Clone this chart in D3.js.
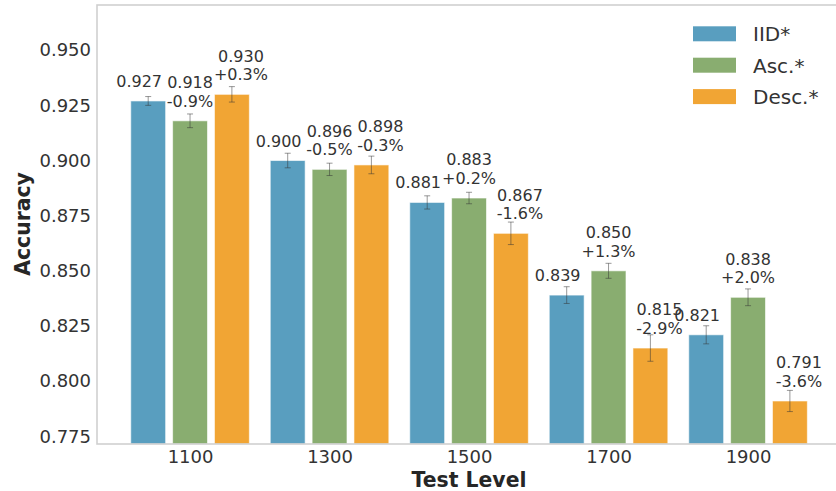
<!DOCTYPE html>
<html>
<head>
<meta charset="utf-8">
<script src="https://cdn.jsdelivr.net/npm/d3@7/dist/d3.min.js"></script>
<style>
  html, body { margin: 0; padding: 0; background: #ffffff; }
  svg { display: block; font-family: "DejaVu Sans", sans-serif; }
</style>
</head>
<body>
<svg id="chart" width="836" height="491"></svg>
<script>
// Test levels on the x axis
const levels = ["1100", "1300", "1500", "1700", "1900"];

// Series names (legend order)
const seriesNames = ["IID*", "Asc.*", "Desc.*"];

// Mean accuracy per level
const iidValues  = [0.927, 0.900, 0.881, 0.839, 0.821];
const ascValues  = [0.918, 0.896, 0.883, 0.850, 0.838];
const descValues = [0.930, 0.898, 0.867, 0.815, 0.791];

// Standard error per level
const iidErr  = [0.0020, 0.0033, 0.0030, 0.0038, 0.0041];
const ascErr  = [0.0031, 0.0028, 0.0026, 0.0034, 0.0038];
const descErr = [0.0035, 0.0040, 0.0051, 0.0060, 0.0048];

// Relative change against IID
const ascChange  = ["-0.9%", "-0.5%", "+0.2%", "+1.3%", "+2.0%"];
const descChange = ["+0.3%", "-0.3%", "-1.6%", "-2.9%", "-3.6%"];

// Y axis ticks
const yTicks = [0.775, 0.800, 0.825, 0.850, 0.875, 0.900, 0.925, 0.950];

const colors = ["#599ebf", "#89ad70", "#f1a534"];
const offsets = [-0.3, 0, 0.3];        // bar centres within a group
const labelOffsets = [-0.365, 0, 0.365]; // value labels spread slightly wider
const barWidth = 0.25;

const series = [
  { name: seriesNames[0], values: iidValues,  err: iidErr,  change: null },
  { name: seriesNames[1], values: ascValues,  err: ascErr,  change: ascChange },
  { name: seriesNames[2], values: descValues, err: descErr, change: descChange }
];

const svg = d3.select("#chart");
const plotLeft = 97, plotTop = 5, plotBottom = 444;

const x = d3.scaleLinear().domain([-0.667, 4.667]).range([plotLeft, plotLeft + 5.334 * 139.5]);
const y = d3.scaleLinear().domain([0.7715, 0.9705]).range([plotBottom, plotTop]);
const plotRight = x(4.667);

// Bars, error bars and value labels
series.forEach((s, si) => {
  const g = svg.append("g");
  const rows = levels.map((lv, i) => ({
    i, v: s.values[i], e: s.err[i], c: s.change ? s.change[i] : null
  }));

  g.selectAll("rect")
    .data(rows)
    .enter().append("rect")
    .attr("x", d => x(d.i + offsets[si] - barWidth / 2))
    .attr("width", d => x(d.i + offsets[si] + barWidth / 2) - x(d.i + offsets[si] - barWidth / 2))
    .attr("y", d => y(d.v))
    .attr("height", d => plotBottom - y(d.v))
    .attr("fill", colors[si])
    .attr("stroke", "#ffffff")
    .attr("stroke-opacity", 0.6)
    .attr("stroke-width", 1);

  const eb = g.selectAll("g.err")
    .data(rows)
    .enter().append("g")
    .attr("class", "err")
    .attr("stroke", "#333333")
    .attr("stroke-opacity", 0.5)
    .attr("stroke-width", 1);
  eb.append("line")
    .attr("x1", d => x(d.i + offsets[si])).attr("x2", d => x(d.i + offsets[si]))
    .attr("y1", d => y(d.v - d.e)).attr("y2", d => y(d.v + d.e));
  eb.append("line")
    .attr("x1", d => x(d.i + offsets[si]) - 3).attr("x2", d => x(d.i + offsets[si]) + 3)
    .attr("y1", d => y(d.v + d.e)).attr("y2", d => y(d.v + d.e));
  eb.append("line")
    .attr("x1", d => x(d.i + offsets[si]) - 3).attr("x2", d => x(d.i + offsets[si]) + 3)
    .attr("y1", d => y(d.v - d.e)).attr("y2", d => y(d.v - d.e));

  const lbl = g.selectAll("text")
    .data(rows)
    .enter().append("text")
    .attr("text-anchor", "middle")
    .attr("font-size", "16px")
    .attr("fill", "#333333");
  lbl.each(function(d) {
    const t = d3.select(this);
    const lx = x(d.i + labelOffsets[si]);
    const base = y(d.v) - 14;
    if (d.c) {
      t.append("tspan").attr("x", lx).attr("y", base - 18.6).text(d3.format(".3f")(d.v));
      t.append("tspan").attr("x", lx).attr("y", base).text(d.c);
    } else {
      t.attr("x", lx).attr("y", base).text(d3.format(".3f")(d.v));
    }
  });
});

// Frame
svg.append("rect")
  .attr("x", plotLeft).attr("y", plotTop)
  .attr("width", plotRight - plotLeft).attr("height", plotBottom - plotTop)
  .attr("fill", "none")
  .attr("stroke", "#d0d0d0")
  .attr("stroke-width", 1.6);

// Axes
const yAxis = svg.append("g")
  .attr("transform", `translate(${plotLeft},0)`)
  .call(d3.axisLeft(y).tickValues(yTicks).tickFormat(d3.format(".3f")).tickSize(0).tickPadding(6));
const xAxis = svg.append("g")
  .attr("transform", `translate(0,${plotBottom})`)
  .call(d3.axisBottom(x).tickValues(d3.range(levels.length)).tickFormat(i => levels[i]).tickSize(0).tickPadding(6));
[yAxis, xAxis].forEach(a => {
  a.select(".domain").remove();
  a.selectAll("text").attr("font-size", "18px").attr("fill", "#333333")
    .attr("font-family", "DejaVu Sans, sans-serif");
});

// Axis titles
svg.append("text")
  .attr("x", 469).attr("y", 486.7)
  .attr("text-anchor", "middle")
  .attr("font-size", "20.4px").attr("font-weight", "bold").attr("fill", "#262626")
  .text("Test Level");
svg.append("text")
  .attr("transform", "translate(29.5,224) rotate(-90)")
  .attr("text-anchor", "middle")
  .attr("font-size", "20.4px").attr("font-weight", "bold").attr("fill", "#262626")
  .text("Accuracy");

// Legend
const legend = svg.append("g");
seriesNames.forEach((n, i) => {
  const cy = 33.8 + i * 31.4;
  legend.append("rect")
    .attr("x", 693).attr("y", cy - 7.5).attr("width", 43).attr("height", 15)
    .attr("fill", colors[i]);
  legend.append("text")
    .attr("x", 753).attr("y", cy + 7.3)
    .attr("font-size", "20px").attr("fill", "#333333")
    .text(n);
});
</script>
</body>
</html>
